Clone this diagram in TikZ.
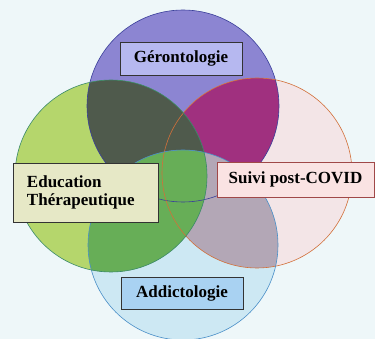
\documentclass[tikz,border=0pt]{standalone}
\usepackage{fontspec}
\setmainfont{Liberation Serif}

\definecolor{bgcol}{HTML}{EEF7F9}
\definecolor{gerocol}{HTML}{8C85D2}
\definecolor{educol}{HTML}{B5D66C}
\definecolor{covidcol}{HTML}{F3E5E7}
\definecolor{addcol}{HTML}{CDE8F3}
\definecolor{geroedu}{HTML}{4F5A4C}
\definecolor{gerocovid}{HTML}{A0307F}
\definecolor{covidadd}{HTML}{B3A7B6}
\definecolor{eduadd}{HTML}{67AE57}
\definecolor{gerodraw}{HTML}{3A3F9A}
\definecolor{edudraw}{HTML}{3A8A6A}
\definecolor{coviddraw}{HTML}{D2703A}
\definecolor{adddraw}{HTML}{4A8FC8}
\definecolor{gerobox}{HTML}{B6B8F0}
\definecolor{edubox}{HTML}{E6E8C6}
\definecolor{covidbox}{HTML}{FAE3E3}
\definecolor{covidline}{HTML}{A04848}
\definecolor{addbox}{HTML}{A9D2F2}

\tikzset{
    labelbox/.style={draw=black!80, line width=0.8pt, inner sep=0pt,
        font=\bfseries\fontsize{17}{20}\selectfont},
}

\begin{document}
\begin{tikzpicture}[x=1pt, y=-1pt]
        \fill[bgcol] (0,0) rectangle (375,339);
        \useasboundingbox (0,0) rectangle (375,339);
        \coordinate (G) at (183,106);
        \coordinate (E) at (111,176);
        \coordinate (C) at (257,173);
        \coordinate (A) at (183,245);
        % circles
        \fill[gerocol] (G) circle (96);
        \fill[covidcol] (C) circle (95);
        \fill[addcol] (A) circle (95);
        \fill[educol] (E) circle (96);
        % overlaps
        \begin{scope}
            \clip (G) circle (96);
            \fill[gerocovid] (C) circle (95);
            \fill[geroedu] (E) circle (96);
        \end{scope}
        \begin{scope}
            \clip (A) circle (95);
            \fill[covidadd] (C) circle (95);
            \fill[eduadd] (E) circle (96);
        \end{scope}
        \foreach \x/\y/\r/\col in {183/106/96/gerodraw, 257/173/95/coviddraw, 183/245/95/adddraw, 111/176/96/edudraw} {
            \draw[\col, line width=0.6pt] (\x,\y) circle (\r);
        }
        % labels
        \node[labelbox, fill=gerobox, minimum width=122pt, minimum height=33pt] (gero) at (181,58.5) {Gérontologie};
        \node[labelbox, fill=edubox, text width=117pt, inner xsep=14pt, minimum height=59pt, align=left] (edu) at (85.5,192.5) {Education\\[-2pt]Thérapeutique};
        \node[labelbox, draw=covidline, fill=covidbox, minimum width=157pt, minimum height=35pt] (covid) at (295.5,179.5) {Suivi post-COVID};
        \node[labelbox, fill=addbox, minimum width=122pt, minimum height=32pt] (addict) at (182,293) {Addictologie};
    \end{tikzpicture}
\end{document}
